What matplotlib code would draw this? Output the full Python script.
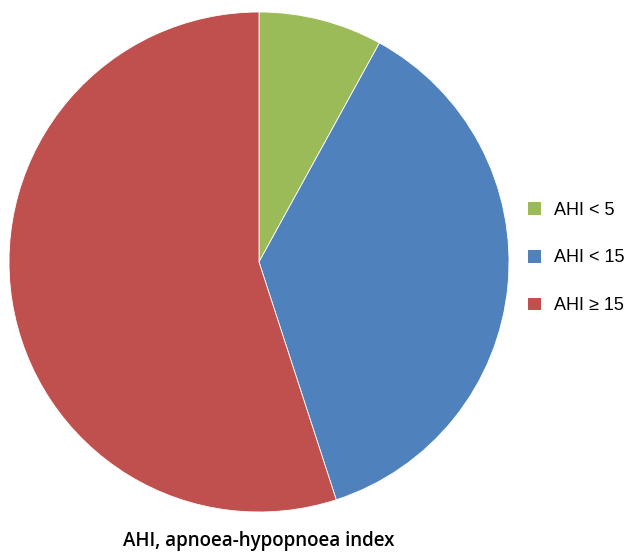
import matplotlib.pyplot as plt
from matplotlib.patches import Patch

labels = ["AHI < 5", "AHI < 15", "AHI \u2265 15"]
shares = [8, 37, 55]
colors = ["#9BBB59", "#4F81BD", "#C0504D"]
title = "AHI, apnoea-hypopnoea index"

W, H = 626, 553
fig = plt.figure(figsize=(W / 100, H / 100), dpi=100)

# pie centre ~ (259, 262) px, radius ~250 px
ax = fig.add_axes([9 / W, (H - 512) / H, 500 / W, 500 / H])
ax.pie(shares, colors=colors, startangle=90, counterclock=False,
       wedgeprops=dict(linewidth=0.6, edgecolor="white"))
ax.set_xlim(-1, 1)
ax.set_ylim(-1, 1)
ax.set_aspect("equal")
ax.axis("off")

handles = [Patch(facecolor=c, edgecolor="none") for c in colors]
fig.legend(handles, labels, loc="center left", bbox_to_anchor=(512 / W, 1 - 258 / H),
           frameon=False, handlelength=0.7, handleheight=0.7,
           handletextpad=0.75, labelspacing=1.7,
           prop={"family": "Liberation Sans", "size": 13})

fig.text(259 / W, 1 - 541 / H, title, ha="center", va="center",
         fontsize=13.5, fontweight="semibold", family="Open Sans")

fig.savefig("out.png", dpi=100)
